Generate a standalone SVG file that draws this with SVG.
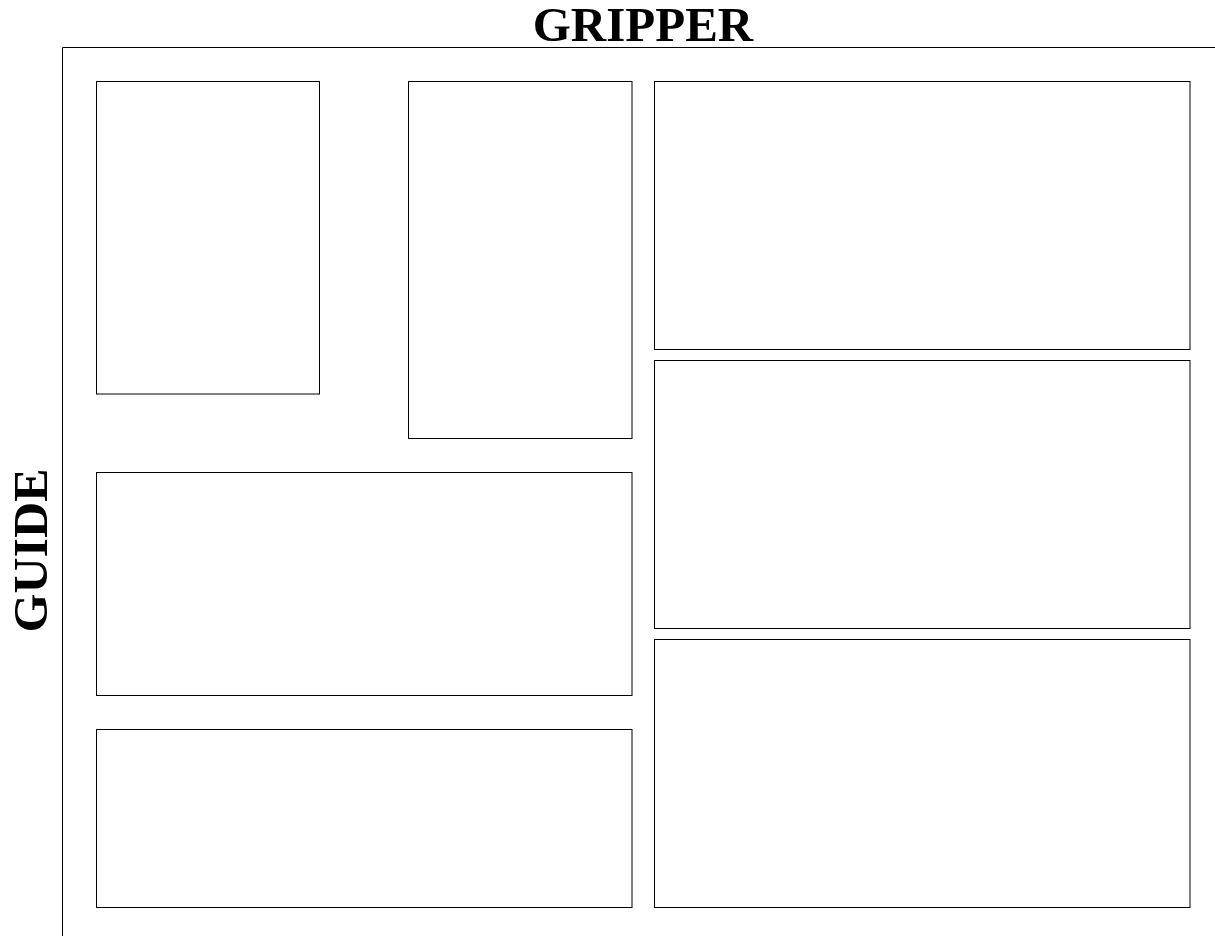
<svg xmlns="http://www.w3.org/2000/svg" width="1215" height="936" viewBox="0 0 1215 936">
<style>
.box{fill:#fff;stroke:#000;stroke-width:1}
.frame{fill:none;stroke:#000;stroke-width:1}
.lbl{font-family:"Liberation Serif","Times New Roman",serif;font-weight:bold;font-size:49px;fill:#000}
</style>
<rect width="1215" height="936" fill="#fff"/>
<g id="frame">
<path class="frame" d="M62.5,936 V47.5 H1215"/>
</g>
<text class="lbl" x="643" y="41" text-anchor="middle">GRIPPER</text>
<text class="lbl" transform="translate(47,550.5) rotate(-90)" text-anchor="middle" textLength="164" lengthAdjust="spacingAndGlyphs">GUIDE</text>
<g id="nodes">
<g id="box1"><rect class="box" x="96.5" y="81.5" width="223" height="312.5"/></g>
<g id="box2"><rect class="box" x="408.5" y="81.5" width="223.5" height="357"/></g>
<g id="box3"><rect class="box" x="654.5" y="81.5" width="535.5" height="268"/></g>
<g id="box4"><rect class="box" x="654.5" y="360.5" width="535.5" height="268"/></g>
<g id="box5"><rect class="box" x="654.5" y="639.5" width="535.5" height="268"/></g>
<g id="box6"><rect class="box" x="96.5" y="472.5" width="535.5" height="223"/></g>
<g id="box7"><rect class="box" x="96.5" y="729.5" width="535.5" height="178"/></g>
</g>
<g id="connectors"></g>
</svg>
